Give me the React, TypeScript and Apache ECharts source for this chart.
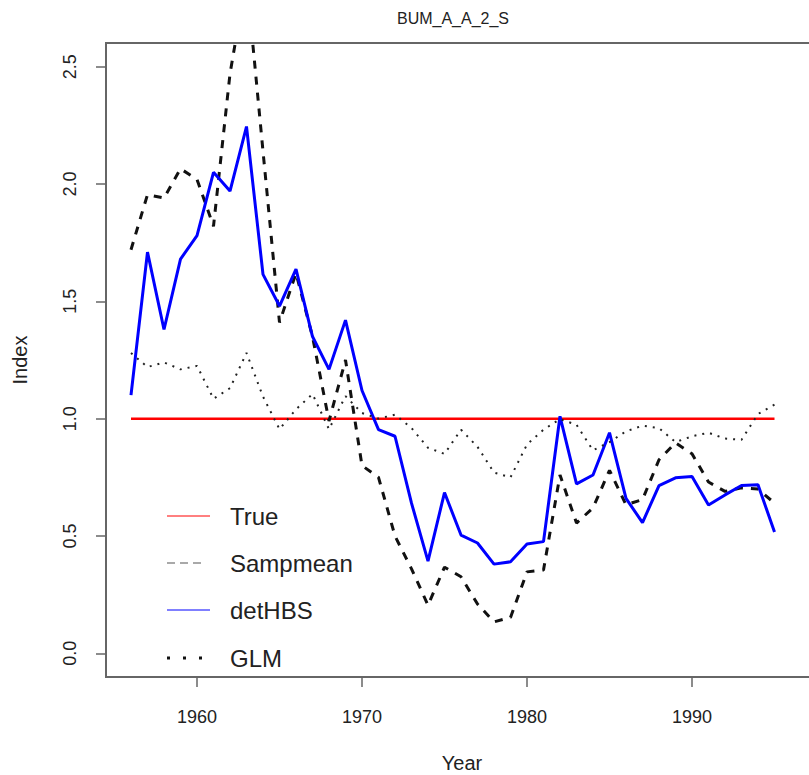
import React, { useEffect, useRef } from "react";
import * as echarts from "echarts";

const years = [
  1956, 1957, 1958, 1959, 1960, 1961, 1962, 1963, 1964, 1965,
  1966, 1967, 1968, 1969, 1970, 1971, 1972, 1973, 1974, 1975,
  1976, 1977, 1978, 1979, 1980, 1981, 1982, 1983, 1984, 1985,
  1986, 1987, 1988, 1989, 1990, 1991, 1992, 1993, 1994, 1995,
];

const trueVals = [
  1, 1, 1, 1, 1, 1, 1, 1, 1, 1,
  1, 1, 1, 1, 1, 1, 1, 1, 1, 1,
  1, 1, 1, 1, 1, 1, 1, 1, 1, 1,
  1, 1, 1, 1, 1, 1, 1, 1, 1, 1,
];

const sampmean = [
  1.72, 1.955, 1.94, 2.065, 2.02, 1.82, 2.47, 2.88, 2.14, 1.41,
  1.62, 1.35, 0.99, 1.25, 0.8, 0.75, 0.5, 0.36, 0.205, 0.367,
  0.326, 0.21, 0.134, 0.153, 0.347, 0.355, 0.76, 0.555, 0.62, 0.78,
  0.633, 0.655, 0.825, 0.897, 0.85, 0.73, 0.69, 0.705, 0.7, 0.64,
];

const detHBS = [
  1.1, 1.71, 1.38, 1.68, 1.78, 2.05, 1.97, 2.245, 1.615, 1.48,
  1.637, 1.35, 1.21, 1.42, 1.12, 0.953, 0.925, 0.64, 0.393, 0.685,
  0.504, 0.47, 0.38, 0.39, 0.466, 0.476, 1.01, 0.722, 0.76, 0.94,
  0.66, 0.557, 0.715, 0.748, 0.753, 0.632, 0.675, 0.715, 0.718, 0.517,
];

const glm = [
  1.28, 1.22, 1.24, 1.21, 1.225, 1.085, 1.13, 1.28, 1.094, 0.955,
  1.04, 1.105, 0.955, 1.096, 1.024, 1.0, 1.017, 0.96, 0.876, 0.85,
  0.953, 0.88, 0.77, 0.75, 0.89, 0.953, 0.998, 0.974, 0.865, 0.9,
  0.946, 0.97, 0.96, 0.9, 0.925, 0.94, 0.915, 0.91, 1.02, 1.06,
];

const xTicks = [1960, 1970, 1980, 1990];
const yTicks = [0, 0.5, 1, 1.5, 2, 2.5];
const legendNames = ["True", "Sampmean", "detHBS", "GLM"];
const titleText = "BUM_A_A_2_S";

const FONT = "'Liberation Sans', Arial, Helvetica, sans-serif";

function pairs(vals: number[]) {
  return years.map((y, i) => [y, vals[i]]);
}

export default function App() {
  const ref = useRef<HTMLDivElement>(null);
  useEffect(() => {
    if (!ref.current) return;
    const chart = echarts.init(ref.current, undefined, { renderer: "svg" });
    const legendY = [516, 563, 610, 658];
    const legendGraphics: any[] = [];
    const lx0 = 167;
    const lx1 = 210;
    legendGraphics.push({
      type: "line",
      shape: { x1: lx0, y1: legendY[0], x2: lx1, y2: legendY[0] },
      style: { stroke: "#ff0000", lineWidth: 1 },
    });
    legendGraphics.push({
      type: "line",
      shape: { x1: lx0, y1: legendY[1], x2: 203, y2: legendY[1] },
      style: { stroke: "#555", lineWidth: 1.2, lineDash: [8, 5] },
    });
    legendGraphics.push({
      type: "line",
      shape: { x1: lx0, y1: legendY[2], x2: lx1, y2: legendY[2] },
      style: { stroke: "#0000ff", lineWidth: 1 },
    });
    legendGraphics.push({
      type: "line",
      shape: { x1: lx0, y1: legendY[3], x2: 202, y2: legendY[3] },
      style: { stroke: "#111", lineWidth: 3, lineDash: [3, 13] },
    });
    legendNames.forEach((n, i) => {
      legendGraphics.push({
        type: "text",
        x: 230,
        y: legendY[i],
        style: {
          text: n,
          fontSize: 24,
          fontFamily: FONT,
          fill: "#222",
          textAlign: "left",
          textVerticalAlign: "middle",
        },
      });
    });

    chart.setOption({
      animation: false,
      backgroundColor: "#ffffff",
      grid: {
        left: 106,
        width: 712,
        top: 43,
        height: 634,
        show: true,
        borderColor: "#666",
        borderWidth: 2,
        backgroundColor: "transparent",
        containLabel: false,
        outerBoundsMode: "none",
      },
      xAxis: {
        type: "value",
        min: 1954.485,
        max: 1997.636,
        name: "Year",
        nameLocation: "middle",
        nameGap: 76,
        nameTextStyle: { fontSize: 20, fontFamily: FONT, color: "#222" },
        axisLine: { show: false, onZero: false },
        splitLine: { show: false },
        axisTick: {
          show: true,
          length: 10,
          customValues: xTicks,
          lineStyle: { color: "#666", width: 1.5 },
        },
        axisLabel: {
          customValues: xTicks,
          fontSize: 18,
          fontFamily: FONT,
          color: "#222",
          margin: 31,
          formatter: (v: number) => String(v),
        },
      },
      yAxis: {
        type: "value",
        min: -0.101,
        max: 2.601,
        name: "Index",
        nameLocation: "middle",
        nameRotate: 90,
        nameGap: 76,
        nameTextStyle: { fontSize: 20, fontFamily: FONT, color: "#222" },
        axisLine: { show: false, onZero: false },
        splitLine: { show: false },
        axisTick: {
          show: true,
          length: 10,
          customValues: yTicks,
          lineStyle: { color: "#666", width: 1.5 },
        },
        axisLabel: {
          customValues: yTicks,
          rotate: 90,
          fontSize: 18,
          fontFamily: FONT,
          color: "#222",
          margin: 27,
          formatter: (v: number) => v.toFixed(1),
        },
      },
      graphic: [
        {
          type: "text",
          x: 453,
          y: 18,
          style: {
            text: titleText,
            fontSize: 16,
            fontFamily: FONT,
            fill: "#222",
            textAlign: "center",
            textVerticalAlign: "middle",
          },
        },
        ...legendGraphics,
      ],
      series: [
        {
          name: "True",
          type: "line",
          data: pairs(trueVals),
          symbol: "none",
          lineStyle: { color: "#ff0000", width: 2.5 },
          z: 2,
        },
        {
          name: "Sampmean",
          type: "line",
          data: pairs(sampmean),
          symbol: "none",
          lineStyle: { color: "#111", width: 3, type: [8, 8] },
          z: 3,
        },
        {
          name: "detHBS",
          type: "line",
          data: pairs(detHBS),
          symbol: "none",
          lineStyle: { color: "#0000ff", width: 3 },
          z: 4,
        },
        {
          name: "GLM",
          type: "line",
          data: pairs(glm),
          symbol: "none",
          lineStyle: { color: "#222", width: 2, type: [2, 6] },
          z: 5,
        },
      ],
    });
    return () => chart.dispose();
  }, []);
  return (
    <div
      ref={ref}
      style={{ position: "fixed", left: 0, top: 0, width: 809, height: 775, background: "#fff" }}
    />
  );
}
